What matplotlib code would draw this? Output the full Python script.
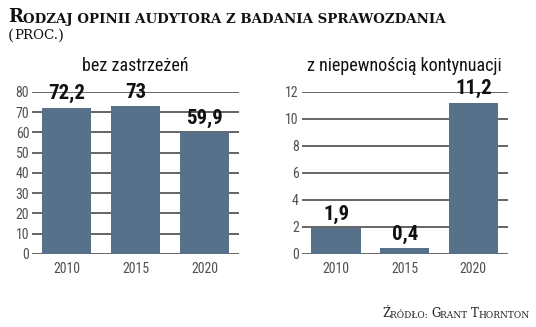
import matplotlib
matplotlib.use("Agg")
import matplotlib.pyplot as plt

# dane
lata = ["2010", "2015", "2020"]
bez_zastrzezen = [72.2, 73, 59.9]
niepewnosc = [1.9, 0.4, 11.2]
etykiety_bez = ["72,2", "73", "59,9"]
etykiety_niep = ["1,9", "0,4", "11,2"]

KOLOR = "#567189"
SIATKA = "#4a4a4a"
TEKST = "#505050"
WASKI = ["Roboto Condensed", "Liberation Sans Narrow", "DejaVu Sans"]

fig = plt.figure(figsize=(5.36, 3.27), dpi=100)
fig.patch.set_facecolor("white")


def small_caps(x, y, parts, size_big, size_small, **kw):
    # parts: lista (tekst, duza litera?) - kawalki doklejane jeden za drugim
    t = fig.text(x, y, parts[0][0], fontsize=size_big if parts[0][1] else size_small,
                 va="baseline", ha="left", **kw)
    for txt, big in parts[1:]:
        t = plt.annotate(txt, xy=(1, 0), xycoords=t, va="bottom", ha="left",
                         fontsize=size_big if big else size_small,
                         annotation_clip=False, **kw)
    return t


def panel(rect, wartosci, etykiety, ymax, krok, tytul):
    ax = fig.add_axes(rect)
    x = range(len(lata))
    ax.bar(x, wartosci, width=0.715, color=KOLOR, zorder=2)
    ax.set_xlim(-0.5, 2.5)
    ax.set_ylim(0, ymax)
    ax.set_yticks(range(0, ymax + 1, krok))
    ax.set_xticks(list(x))
    ax.set_xticklabels(lata)
    ax.grid(axis="y", color=SIATKA, linewidth=1.2, zorder=1)
    for s in ax.spines.values():
        s.set_visible(False)
    ax.tick_params(length=0, labelsize=10, labelcolor=TEKST)
    ax.tick_params(axis="y", pad=2)
    ax.tick_params(axis="x", pad=6)
    for lab in ax.get_xticklabels() + ax.get_yticklabels():
        lab.set_family(WASKI)
    for i, (v, e) in enumerate(zip(wartosci, etykiety)):
        ax.annotate(e, xy=(i, v), xytext=(0, 3), textcoords="offset points",
                    ha="center", va="bottom", fontsize=15, fontweight="bold",
                    color="#111111", zorder=3, family=WASKI)
    ax.set_title(tytul, fontsize=13, color="#111111", pad=15, family=WASKI)
    return ax


panel([0.0597, 0.224, 0.3862, 0.4954], bez_zastrzezen, etykiety_bez, 80, 10, "bez zastrzeżeń")
panel([0.5629, 0.224, 0.3843, 0.4954], niepewnosc, etykiety_niep, 12, 2, "z niepewnością kontynuacji")

# tytul
small_caps(0.015, 0.932, [("R", True), ("ODZAJ OPINII AUDYTORA Z BADANIA SPRAWOZDANIA", False)],
           13, 9.6, family="DejaVu Serif", fontweight="bold", color="#111111")
small_caps(0.015, 0.88, [("(", True), ("PROC.", False), (")", True)], 11, 9.6,
           family="DejaVu Serif", color="#111111")

# zrodlo
small_caps(0.713, 0.03, [("Ź", True), ("RÓDŁO: ", False), ("G", True), ("RANT ", False),
                          ("T", True), ("HORNTON", False)], 8.5, 6.5,
           family="DejaVu Serif", color="#222222")

fig.savefig("out.png", dpi=100, facecolor="white")
